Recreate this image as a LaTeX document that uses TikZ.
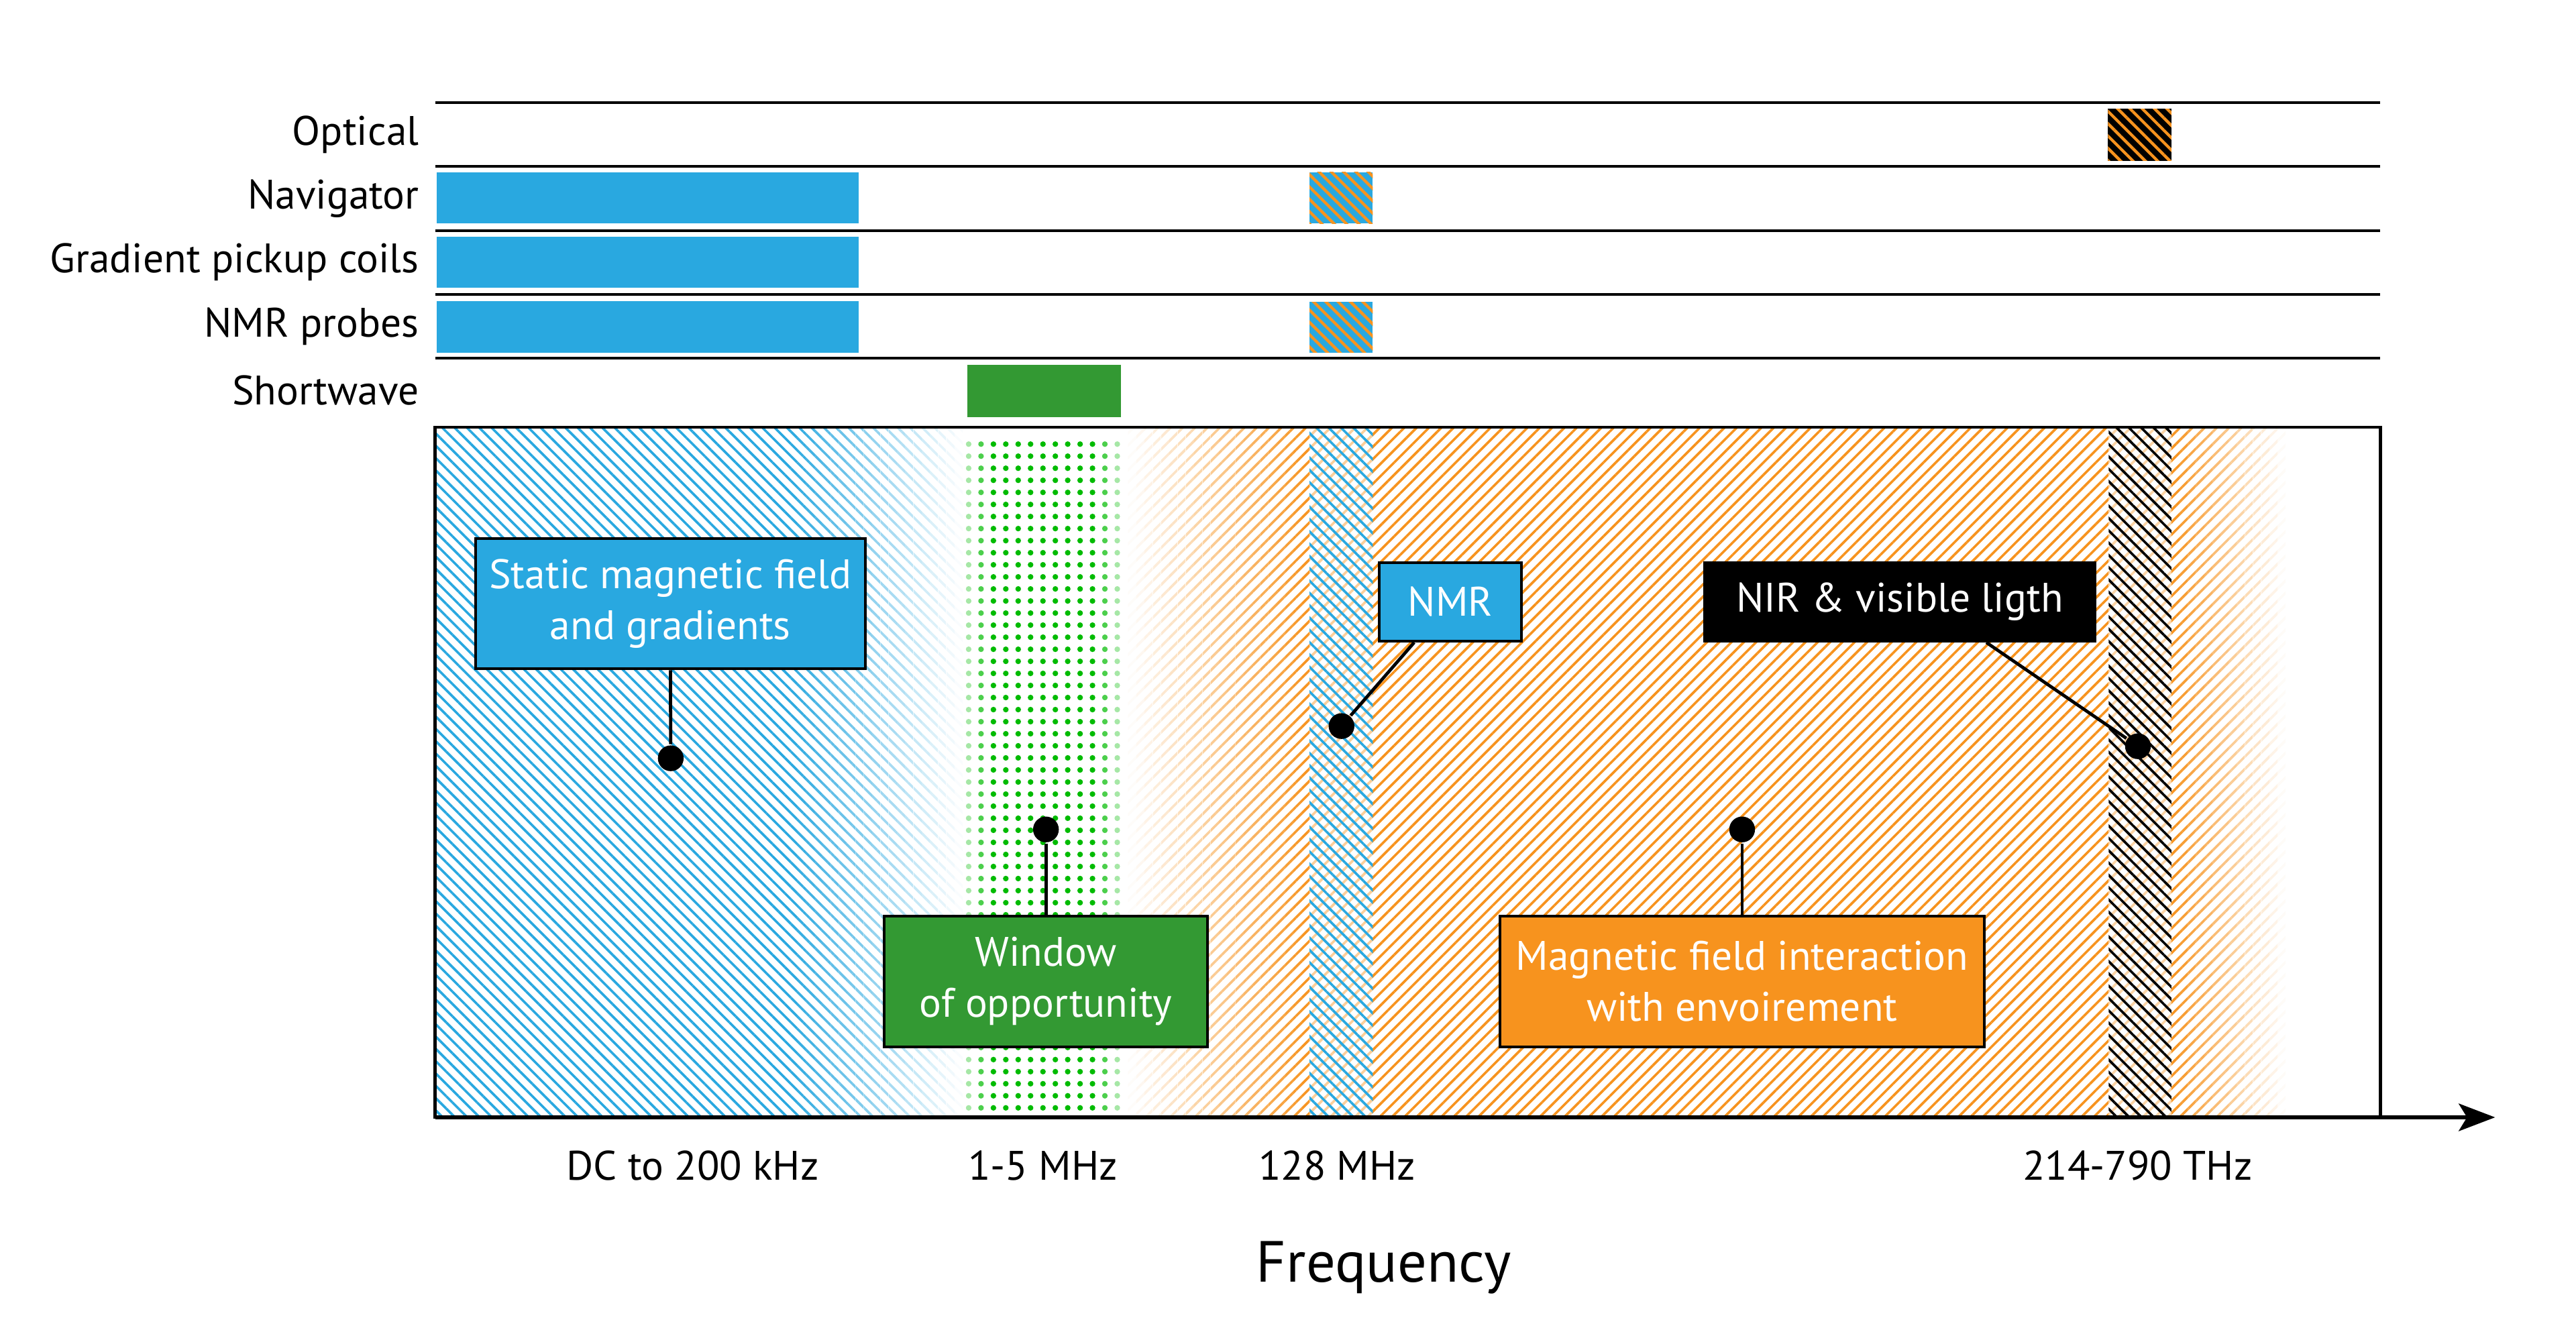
\documentclass[tikz,border=0pt]{standalone}
\usepackage{fontspec}
\setmainfont{PT Sans}
\usetikzlibrary{calc,arrows.meta,patterns.meta}
\definecolor{mriblue}{HTML}{29A8E0}
\definecolor{mriorange}{HTML}{F7931E}
\definecolor{mrigreen}{HTML}{339933}
\definecolor{dotgreen}{HTML}{00BB00}
\tikzset{
    rowline/.style={black,line width=0.46pt},
    rowlabel/.style={anchor=east,inner sep=0pt},
    bluehatch/.style={pattern={Lines[angle=-45,distance=1.5pt,line width=0.42pt]},pattern color=mriblue},
    orangehatch/.style={pattern={Lines[angle=45,distance=1.5pt,line width=0.42pt]},pattern color=mriorange},
    blackhatch/.style={pattern={Lines[angle=-45,distance=1.5pt,line width=0.42pt]},pattern color=black},
    orangeback/.style={pattern={Lines[angle=-45,distance=1.5pt,line width=0.5pt]},pattern color=mriorange},
    veil/.style={fill=white,draw=none},
    callout/.style={draw=black,line width=0.46pt,text=white,align=center,inner sep=0pt,
        font=\fontsize{7.1}{8.8}\selectfont},
    pin/.style={circle,fill=black,inner sep=0pt,minimum size=1.56mm},
    pinline/.style={black,line width=0.55pt},
    ticklabel/.style={inner sep=0pt}
}
\begin{document}
\begin{tikzpicture}[x=0.1mm,y=-0.1mm,font=\fontsize{7.1}{9.4}\selectfont]
\useasboundingbox (0,0) rectangle (1560,811.3);
% techniques
\foreach \y in {62,100.9,139.6,178.3,217.1}
    \draw[rowline] (263.5,\y)--(1441.5,\y);
\node[rowlabel] (optical) at (254.4,81.5) {Optical};
\node[rowlabel] (navigator) at (254.4,120.2) {Navigator};
\node[rowlabel] (gradient) at (254.4,158.9) {Gradient pickup coils};
\node[rowlabel] (probes) at (254.4,197.6) {NMR probes};
\node[rowlabel] (shortwave) at (254.4,236.6) {Shortwave};
\fill[mriblue] (264.5,104.5) rectangle (520,135.4);
\fill[mriblue] (264.5,143.5) rectangle (520,174.4);
\fill[mriblue] (264.5,182.5) rectangle (520,213.6);
\fill[mriblue] (793,104.3) rectangle (831.3,135.4);
\fill[orangeback] (793,104.3) rectangle (831.3,135.4);
\fill[mriblue] (793,182.8) rectangle (831.3,213.6);
\fill[orangeback] (793,182.8) rectangle (831.3,213.6);
\fill[black] (1276.6,65.9) rectangle (1315,97.3);
\fill[orangeback] (1276.6,65.9) rectangle (1315,97.3);
\fill[mrigreen] (585.8,221) rectangle (679,252.5);
% spectrum
\fill[bluehatch] (263.5,258.7) rectangle (583,676.8);
\foreach \i [evaluate=\i as \op using (\i+0.5)/21] in {0,...,20}
    \fill[veil,fill opacity=\op] ({478+\i*5},258.7) rectangle ({483.2+\i*5},676.8);
\fill[orangehatch] (683,258.7) rectangle (1384,676.8);
\foreach \i [evaluate=\i as \op using 1-(\i+0.5)/22] in {0,...,21}
    \fill[veil,fill opacity=\op] ({683+\i*5},258.7) rectangle ({688.2+\i*5},676.8);
\fill[veil,fill opacity=0.55] (793,258.7) rectangle (831.3,676.8);
\fill[veil,fill opacity=0.6] (1277,258.7) rectangle (1315,676.8);
\foreach \i [evaluate=\i as \op using (\i+0.5)/14] in {0,...,13}
    \fill[veil,fill opacity=\op] ({1315+\i*4.93},258.7) rectangle ({1320.1+\i*4.93},676.8);
\fill[bluehatch] (793,258.7) rectangle (831.3,676.8);
\fill[blackhatch] (1277,258.7) rectangle (1315,676.8);
\foreach \op [count=\k from 0] in {0.35,0.7,1,1,1,1,1,1,1,1,1,0.7,0.35}
    \foreach \r in {0,...,55}
        \fill[dotgreen,opacity=\op] ({586.6+\k*7.5},{269+\r*7.31}) circle[radius=0.17mm];
\draw[line width=0.5pt] (263.5,258.7) rectangle (1441.5,676.8);
\coordinate (origin) at (263.5,676.8);
\coordinate (axisend) at (1511,676.8);
\draw[line width=0.7pt,-{Stealth[length=2.2mm,width=1.66mm,inset=0.5mm]}] (origin) -- (axisend);
% callouts
\node[callout,fill=mriblue,minimum width=23.6mm,minimum height=7.9mm] (staticbox) at (406,365.7) {Static magnetic field\\and gradients};
\node[pin] (staticpin) at (406.2,459.3) {};
\draw[pinline] (staticbox.south) -- (staticpin);
\node[callout,fill=mriblue,minimum width=8.6mm,minimum height=4.77mm] (nmrbox) at (878.3,364.5) {NMR};
\node[pin] (nmrpin) at (812.4,439.8) {};
\draw[pinline] ($(nmrbox.south west)!0.25!(nmrbox.south east)$) -- (nmrpin);
\node[callout,fill=black,minimum width=23.66mm,minimum height=4.77mm] (nirbox) at (1150.5,364.5) {NIR \& visible ligth};
\node[pin] (nirpin) at (1294.7,452) {};
\draw[pinline] ($(nirbox.south west)!0.72!(nirbox.south east)$) -- (nirpin);
\node[callout,fill=mrigreen,minimum width=19.6mm,minimum height=7.9mm] (windowbox) at (633.4,594.5) {Window\\of opportunity};
\node[pin] (windowpin) at (633.4,502.4) {};
\draw[pinline] (windowpin) -- (windowbox.north);
\node[callout,fill=mriorange,minimum width=29.35mm,minimum height=7.9mm] (envbox) at (1055,594.5) {Magnetic field interaction\\with envoirement};
\node[pin] (envpin) at (1055,502.4) {};
\draw[pinline] (envpin) -- (envbox.north);
% axis labels
\node[ticklabel] (dclabel) at (419.5,706) {DC to 200 kHz};
\node[ticklabel] (swlabel) at (631.5,706) {1-5 MHz};
\node[ticklabel] (nmrlabel) at (809.7,706) {128 MHz};
\node[ticklabel] (nirlabel) at (1294.5,706) {214-790 THz};
\node[ticklabel,font=\fontsize{10}{12}\selectfont] (freqlabel) at (838,768) {Frequency};
\end{tikzpicture}
\end{document}
